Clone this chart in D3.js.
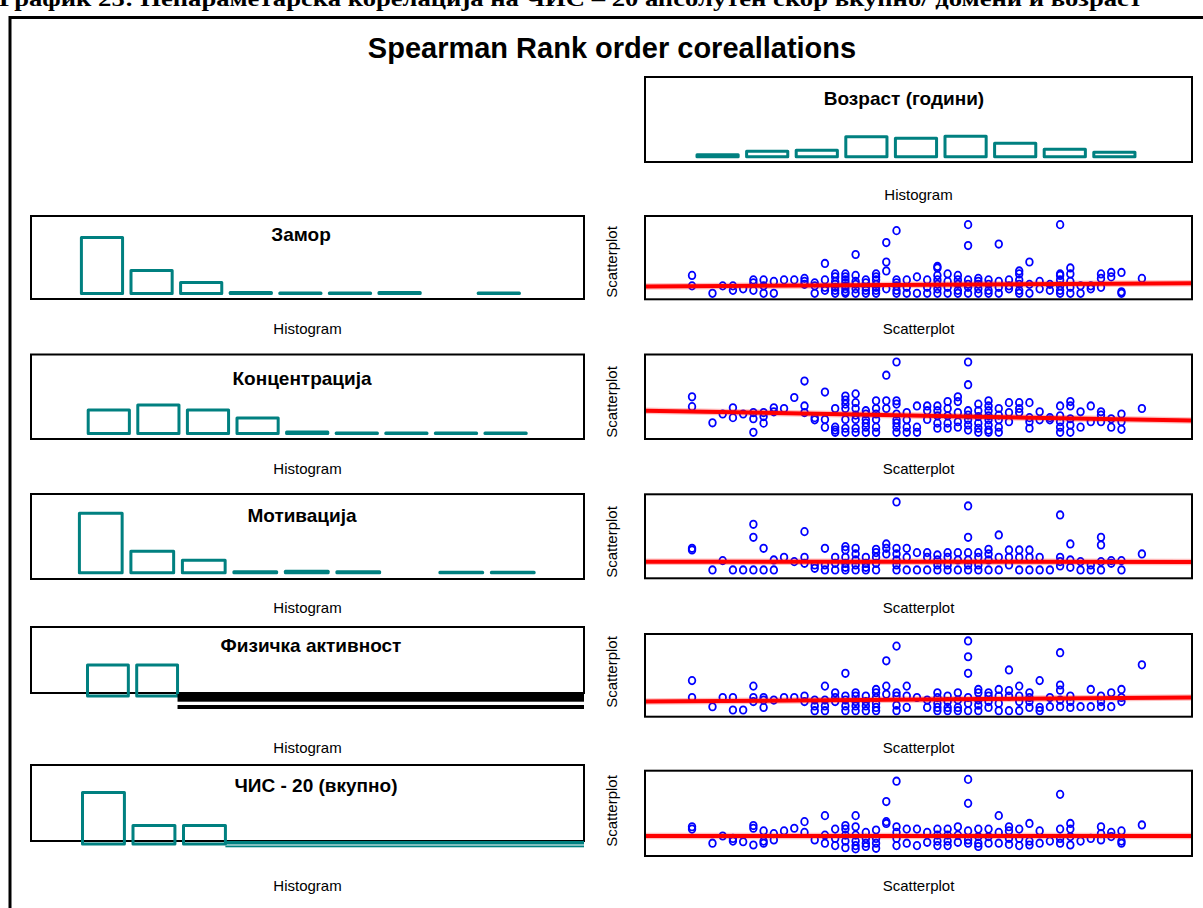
<!DOCTYPE html>
<html>
<head>
<meta charset="utf-8">
<script src="https://cdn.jsdelivr.net/npm/d3@7"></script>
<style>
  body { margin: 0; background: #fff; }
  svg { display: block; }
  text { font-family: "Liberation Sans", Arial, sans-serif; fill: #000; }
</style>
</head>
<body>
<svg id="chart"></svg>
<script>
// ---- data ----
const caption = "График 25: Непараметарска корелација на ЧИС – 20 апсолутен скор вкупно/ домени и возраст"
const mainTitle = "Spearman Rank order coreallations"
const histLabel = "Histogram"
const scatLabel = "Scatterplot"

const ageTitle = "Возраст (години)"
const ageCounts = [4, 11, 13, 40, 37, 41, 27, 15, 9]

const rowTitles = ["Замор", "Концентрација", "Мотивација", "Физичка активност", "ЧИС - 20 (вкупно)"]
const zamorCounts = [112, 46, 22, 2, 1, 1, 2, 0, 1]
const koncCounts = [47, 57, 47, 31, 3, 1, 1, 1, 1]
const motivCounts = [119, 43, 25, 2, 3, 2, 0, 1, 1]
const fizCounts = [62, 62]
const cisCounts = [103, 37, 37]

// age columns of the scatterplots (x), scores per age (y, display units)
const ages = [20, 22, 23, 24, 25, 26, 27, 28, 29, 30, 31, 32, 33, 34, 35, 36, 37, 38, 39, 40, 41,
  42, 43, 44, 45, 46, 47, 48, 49, 50, 51, 52, 53, 54, 55, 56, 57, 58, 59, 60, 61, 62, 64]

const zamorScores = [[6, 2.5], [0], [2.5], [2.5, 1], [1.5], [4.5, 3.5, 1], [4.5, 2.5, 0], [4, 0], [4.5], [4.5],
  [5, 4, 3], [3.5, 2.5, 0], [10, 4.5, 2, 1], [6.5, 5.5, 4, 3, 2, 1, 0], [6.5, 5.5, 4.5, 3.5, 2.5, 1.5, 0.5, 0],
  [13, 6, 4, 3, 1.5, 0], [4.5, 3.5, 2, 1, 0], [6.5, 5.5, 4.5, 3, 2, 1, 0], [17, 10.5, 7.5, 1.5],
  [21, 4.5, 3.5, 2.5, 1, 0], [4.5, 2, 0], [5.5, 0], [4.5, 2, 0], [9, 8.5, 6, 4.5, 3, 1.5, 0], [6.5, 4, 2, 0],
  [6, 4.5, 3, 1, 0], [23, 16, 4.5, 3, 2, 0], [5, 4, 3, 1.5, 0], [4.5, 3, 1, 0], [16.5, 4, 2, 0], [4.5, 2.5, 1.5],
  [7.5, 6.5, 4.5, 3, 1, 0], [10.5, 3, 0], [4, 1.5], [3, 1], [23, 6.5, 6, 4.5, 2.5, 1, 0], [8.5, 6.5, 4, 2, 0],
  [2.5, 0], [2.5, 1.5], [6.5, 5, 2], [7, 5.5], [7, 0.5, 0], [5]]

const koncScores = [[9.7, 7], [2.6], [5], [6.7, 4], [5], [5.4, 3.7, 0], [5.4, 4.3, 2.5], [6.7, 5.6], [6.5], [9.5],
  [14, 7.2, 5.4], [4, 3.4], [11, 3.5, 1.4], [6.5, 1.4, 0.6, 0], [9.9, 8.8, 7.7, 6.5, 3.5, 1.1, 0],
  [10.5, 8.1, 6.5, 4.7, 3.5, 1.1, 0], [5.9, 5, 3.5, 2.5, 1.4, 0], [8.6, 6.5, 5, 3.5, 1.4, 0], [15.6, 8.6, 6.5],
  [19.2, 8.6, 7.7, 5, 3.4, 2.5, 1.4, 0], [5.4, 3.4, 1.4, 0], [7.2, 1.4, 0], [7.2, 5.9, 3.5], [7.2, 5.9, 4.5, 2.5, 1.1],
  [8.4, 6.5, 4.5, 2.5, 1.1], [9.7, 8.4, 5.4, 2.9, 1.4], [19.2, 13, 5.9, 4.7, 3.4, 2, 0.6], [7.7, 5.9, 4.3, 2.5, 1.1, 0],
  [8.6, 7.2, 5.9, 4.5, 3.4, 2, 0.6, 0], [6.5, 4.7, 3.4, 1.4, 0], [8.1, 5.4, 2.9], [8.1, 6.5, 5.4], [8.1, 4, 2.9, 1.1],
  [5.6, 3.4], [4, 3.4], [7.2, 4.5, 2.9, 1.4, 0], [8.4, 7.2, 3.7, 2, 0], [5.6, 1.4], [7.2, 2.9], [5.6, 4.7, 2.9],
  [3.7, 1.4], [5, 2.9, 0.8], [6.5]]

const motivScores = [[6.5, 6], [0], [2.8], [0], [0], [13.7, 9.8, 0], [6.5, 0], [3, 0], [3.8], [2.5],
  [11.5, 3.8, 2], [1.5, 0.5], [6.5, 1.5, 0], [3.8, 2, 0], [7, 6, 3.8, 2, 0.8, 0], [6.5, 4.8, 3, 1.5, 0],
  [3.8, 2, 0.8, 0], [6.2, 5.2, 3.8, 2, 0], [7.8, 6.5, 4.8], [20.4, 6.5, 4.8, 3, 1.5, 0], [6.5, 3.8, 0], [5.2, 0],
  [5.2, 3.8, 0], [4.5, 3, 1.5, 0], [5.2, 3.8, 1.5, 0], [5.2, 3, 0], [19.2, 9.8, 5.2, 3, 1.5, 0], [5.2, 3.8, 1.5, 0],
  [6.2, 4.8, 3, 0], [10.5, 3.8, 0], [6, 3.8, 1.5], [6, 3.8, 0], [6, 3.8, 0], [3.8, 0], [0], [16.5, 3.8, 2.5, 1.2],
  [7.8, 3, 0.8], [2.5, 0], [1.5, 0], [9.8, 7.5, 2.5, 0], [2.8, 2], [2.8, 0], [4.8]]

const fizScores = [[8.2, 3.6], [1.1], [3.6], [3.6, 0.2], [0.2], [6.7, 3.6, 2.5], [3.6, 2.9, 0.9], [2.9], [3.6], [3.6],
  [4, 2.5], [2.9, 1.3, 0], [6.7, 2.9, 1.3, 0], [4.9, 3.6, 2.5], [10.2, 4, 2.9, 1.3, 0], [4.9, 4, 2.5, 1.3, 0],
  [4, 2.5, 1.3, 0], [5.8, 4.9, 3.6, 2, 0.9, 0], [13.6, 6.7, 4.5], [17.6, 4.9, 4, 1.5, 0], [6.7, 4, 0.9], [3.6],
  [2.9, 0.9], [4.9, 3.6, 2, 0.9, 0], [4, 2.5, 0.9, 0], [4.9, 2.9, 0.9, 0], [19, 14.7, 10.2, 3.6, 2, 0],
  [5.8, 4.9, 2.9, 1.5, 0], [4.9, 4, 2.5, 0.9], [5.8, 4, 2, 0], [11.1, 5.5, 4, 0], [6.7, 4, 2.5, 0],
  [4.9, 3.6, 2.5, 0.9], [8.2, 0.9, 0], [3.6, 1.1], [15.8, 7, 5.6, 2.9, 1.1], [4, 2.5, 0.9], [1.1], [5.8, 1.1],
  [4, 2.5, 1.1], [4.9, 1.1], [5.8, 3.6, 2.5], [12.5]]

const cisScores = [[7.2, 6.4], [1.7], [4.1], [3.3, 2.4], [2.2], [7.6, 6.7, 1.1], [5.8, 2.4, 1.7], [4.9, 2.8], [5.8],
  [6.7], [8.9, 5.3], [2.8], [10.9, 4.4, 1.7], [6.4, 3.3, 0.9], [7.6, 6.4, 4.4, 2.4, 0.2],
  [10.9, 7.2, 4.4, 2.4, 0.9, -0.2], [5.3, 3.3, 1.7, 0.6], [6.1, 3.3, 1.7, 0], [15.6, 8.9, 8.3],
  [22.4, 7.2, 5.3, 3.3, 0.9], [6.4, 1.7], [6.4, 0.9], [5.3, 2], [6.4, 4.4, 2.4, 0.9], [6.4, 4.4, 2.4, 0.9],
  [7.2, 4.4, 2], [23, 15, 5.8, 2.8, 1.7], [6.4, 3.9, 1.7, 0.6], [6.4, 3.9, 1.7], [10.9, 5.3, 1.7],
  [7.2, 5.8, 3.3, 1.3], [6.4, 3.3, 0.9], [8.3, 2.4, 1.1], [5.8, 1.7], [2.4], [18, 6.4, 3.3, 1.7],
  [8.3, 6.4, 3.9, 1.1], [2.4], [3.3], [7.2, 4.9, 2.8], [5.3, 3.9], [5.8, 2.4, 1.7], [7.8]]

// regression line value at the left and right edge of each scatterplot
const fitLeft = [2.3, 5.9, 2.5, 2.5, 4.1]
const fitRight = [3.4, 3.2, 2.4, 3.6, 4.1]

// ---- layout ----
const width = 1203, height = 908
const teal = "#008080"
const histX = [31, 584]
const scatX = [645, 1192]

const topHist = { y0: 77, y1: 162, first: 697, pitch: 49.6, base: 156.8, titleX: 904, titleY: 105, labelY: 200 }
const histRows = [
  { y0: 216, y1: 299, first: 81.4, pitch: 49.6, base: 293.5, titleX: 301, titleY: 241, labelY: 334 },
  { y0: 354.5, y1: 439, first: 88.2, pitch: 49.6, base: 433.5, titleX: 302, titleY: 385, labelY: 474 },
  { y0: 494, y1: 579, first: 79.4, pitch: 51.5, base: 572.8, titleX: 302, titleY: 522, labelY: 613 },
  { y0: 627, y1: 693, first: 87.5, pitch: 49.2, base: 696, titleX: 311, titleY: 652, labelY: 753 },
  { y0: 765, y1: 841, first: 82.5, pitch: 50.5, base: 844, titleX: 316, titleY: 792, labelY: 891 }
]
const scatRows = [
  { y0: 216, y1: 299.3, lo: -2.0, hi: 25.9, ylabY: 262 },
  { y0: 354.5, y1: 439, lo: -1.83, hi: 21.25, ylabY: 402 },
  { y0: 494.3, y1: 578.3, lo: -2.5, hi: 22.7, ylabY: 542 },
  { y0: 634, y1: 716.7, lo: -1.63, hi: 20.9, ylabY: 672 },
  { y0: 770.7, y1: 856, lo: -2.57, hi: 25.9, ylabY: 811 }
]

const svg = d3.select("#chart").attr("width", width).attr("height", height)

// caption cut off at the top of the page
svg.append("text")
  .attr("x", -1).attr("y", 6)
  .attr("textLength", 1143).attr("lengthAdjust", "spacingAndGlyphs")
  .style("font-family", "'Liberation Serif', 'Times New Roman', serif")
  .style("font-weight", "bold").style("font-size", "20px")
  .text(caption)

// outer frame (left and top only are visible)
svg.append("path")
  .attr("d", d3.line()([[10, height], [10, 17.5], [width, 17.5]]))
  .attr("fill", "none").attr("stroke", "#000").attr("stroke-width", 3)

svg.append("text")
  .attr("x", 612).attr("y", 58)
  .attr("text-anchor", "middle")
  .style("font-weight", "bold").style("font-size", "29px")
  .text(mainTitle)

function drawHist(L, x0, x1, counts, title) {
  const g = svg.append("g")
  const hx = d3.scaleLinear().domain([0, 9]).range([L.first, L.first + 9 * L.pitch])
  const hy = d3.scaleLinear().domain([0, 100]).range([L.base, L.base - 50])
  const bw = L.pitch * 0.83

  g.append("rect")
    .attr("x", x0).attr("y", L.y0).attr("width", x1 - x0).attr("height", L.y1 - L.y0)
    .attr("fill", "none").attr("stroke", "#000").attr("stroke-width", 2)

  g.selectAll("rect.bar")
    .data(counts.map((c, i) => ({ c, i })).filter(d => d.c > 0))
    .join("rect")
    .attr("class", "bar")
    .attr("x", d => hx(d.i))
    .attr("y", d => hy(d.c))
    .attr("width", bw)
    .attr("height", d => hy(0) - hy(d.c))
    .attr("fill", "none")
    .attr("stroke", teal)
    .attr("stroke-width", 3)
    .attr("stroke-linejoin", "round")

  g.append("text")
    .attr("x", L.titleX).attr("y", L.titleY)
    .attr("text-anchor", "middle")
    .style("font-weight", "bold").style("font-size", "19px")
    .text(title)

  g.append("text")
    .attr("x", (x0 + x1) / 2).attr("y", L.labelY)
    .attr("text-anchor", "middle")
    .style("font-size", "15px")
    .text(histLabel)

  return { g, hx, hy, bw }
}

function drawScatter(i, scores) {
  const S = scatRows[i]
  const g = svg.append("g")
  const sx = d3.scaleLinear().domain([15.4, 68.9]).range(scatX)
  const sy = d3.scaleLinear().domain([S.lo, S.hi]).range([S.y1, S.y0])

  const clipId = "clip" + i
  svg.append("clipPath").attr("id", clipId)
    .append("rect")
    .attr("x", scatX[0]).attr("y", S.y0)
    .attr("width", scatX[1] - scatX[0]).attr("height", S.y1 - S.y0)

  const pts = []
  ages.forEach((a, k) => scores[k].forEach(v => pts.push([a, v])))

  g.selectAll("ellipse")
    .data(pts)
    .join("ellipse")
    .attr("cx", d => sx(d[0]))
    .attr("cy", d => sy(d[1]))
    .attr("rx", 3.3)
    .attr("ry", 3.7)
    .attr("fill", "none")
    .attr("stroke", "#0000ff")
    .attr("stroke-width", 1.8)

  const fit = [[sx.domain()[0], fitLeft[i]], [sx.domain()[1], fitRight[i]]]
  const line = d3.line().x(d => sx(d[0])).y(d => sy(d[1]))
  g.append("path").attr("d", line(fit)).attr("clip-path", `url(#${clipId})`)
    .attr("stroke", "rgba(255,0,0,0.25)").attr("stroke-width", 6.5).attr("fill", "none")
  g.append("path").attr("d", line(fit)).attr("clip-path", `url(#${clipId})`)
    .attr("stroke", "#ff0000").attr("stroke-width", 4).attr("fill", "none")

  g.append("rect")
    .attr("x", scatX[0]).attr("y", S.y0)
    .attr("width", scatX[1] - scatX[0]).attr("height", S.y1 - S.y0)
    .attr("fill", "none").attr("stroke", "#000").attr("stroke-width", 2)

  g.append("text")
    .attr("transform", `translate(617,${S.ylabY}) rotate(-90)`)
    .attr("text-anchor", "middle")
    .style("font-size", "15px")
    .text(scatLabel)

  g.append("text")
    .attr("x", (scatX[0] + scatX[1]) / 2).attr("y", histRows[i].labelY)
    .attr("text-anchor", "middle")
    .style("font-size", "15px")
    .text(scatLabel)
}

// age histogram, top right
drawHist(topHist, scatX[0], scatX[1], ageCounts, ageTitle)

const rowCounts = [zamorCounts, koncCounts, motivCounts, fizCounts, cisCounts]
const rowScores = [zamorScores, koncScores, motivScores, fizScores, cisScores]

rowCounts.forEach((counts, i) => {
  const h = drawHist(histRows[i], histX[0], histX[1], counts, rowTitles[i])
  const L = histRows[i]
  const from = h.hx(counts.length - 1) + h.bw
  // the two broken panels: the remaining bins collapse into bands under the frame
  if (i === 3) {
    h.g.append("rect").attr("x", from).attr("y", L.base - 2)
      .attr("width", histX[1] - from).attr("height", 7.7).attr("fill", "#000")
    h.g.append("rect").attr("x", from).attr("y", L.base + 9)
      .attr("width", histX[1] - from).attr("height", 4).attr("fill", "#000")
  }
  if (i === 4) {
    h.g.append("rect").attr("x", from).attr("y", L.base - 3)
      .attr("width", histX[1] - from).attr("height", 3.5).attr("fill", teal)
    h.g.append("rect").attr("x", from).attr("y", L.base + 1.5)
      .attr("width", histX[1] - from).attr("height", 1.8).attr("fill", teal)
  }
  drawScatter(i, rowScores[i])
})
</script>
</body>
</html>
